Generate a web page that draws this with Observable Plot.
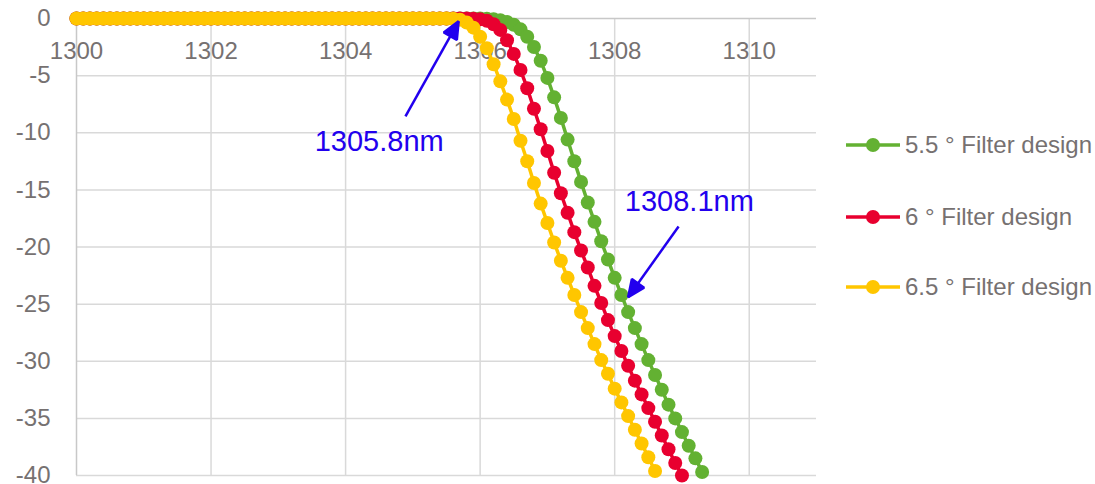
<!DOCTYPE html>
<html>
<head>
<meta charset="utf-8">
<script src="https://cdn.jsdelivr.net/npm/d3@7"></script>
<script src="https://cdn.jsdelivr.net/npm/@observablehq/plot@0.6"></script>
<style>
  html, body { margin: 0; padding: 0; background: #ffffff; }
  #wrap { position: relative; width: 1095px; height: 484px; font-family: "Liberation Sans", Arial, sans-serif; }
  #legend { position: absolute; left: 846px; top: 0; }
  .item { position: absolute; left: 0; display: flex; align-items: center; white-space: nowrap; height: 30px; }
  .item span { font-size: 24px; color: #767171; margin-left: 4px; }
</style>
</head>
<body>
<div id="wrap"><div id="legend"></div></div>
<script>
// Wavelength samples (nm)
const wavelengths = [
  1300.0,1300.1,1300.2,1300.3,1300.4,1300.5,1300.6,1300.7,1300.8,1300.9,
  1301.0,1301.1,1301.2,1301.3,1301.4,1301.5,1301.6,1301.7,1301.8,1301.9,
  1302.0,1302.1,1302.2,1302.3,1302.4,1302.5,1302.6,1302.7,1302.8,1302.9,
  1303.0,1303.1,1303.2,1303.3,1303.4,1303.5,1303.6,1303.7,1303.8,1303.9,
  1304.0,1304.1,1304.2,1304.3,1304.4,1304.5,1304.6,1304.7,1304.8,1304.9,
  1305.0,1305.1,1305.2,1305.3,1305.4,1305.5,1305.6,1305.7,1305.8,1305.9,
  1306.0,1306.1,1306.2,1306.3,1306.4,1306.5,1306.6,1306.7,1306.8,1306.9,
  1307.0,1307.1,1307.2,1307.3,1307.4,1307.5,1307.6,1307.7,1307.8,1307.9,
  1308.0,1308.1,1308.2,1308.3,1308.4,1308.5,1308.6,1308.7,1308.8,1308.9,
  1309.0,1309.1,1309.2,1309.3
];

// Series names
const seriesNames = ["5.5 ° Filter design", "6 ° Filter design", "6.5 ° Filter design"];

// 5.5° (dB), starting at 1300.0 nm
const green55 = [
  0,0,0,0,0,0,0,0,0,0,
  0,0,0,0,0,0,0,0,0,0,
  0,0,0,0,0,0,0,0,0,0,
  0,0,0,0,0,0,0,0,0,0,
  0,0,0,0,0,0,0,0,0,0,
  0,0,0,0,0,0,0,0,0,0,
  0,
  -0.02,-0.06,-0.15,-0.3,-0.55,-0.95,-1.6,-2.5,-3.7,
  -5.2,-6.9,-8.7,-10.6,-12.5,-14.3,-16.1,-17.8,-19.5,-21.1,
  -22.7,-24.2,-25.7,-27.1,-28.5,-29.9,-31.2,-32.5,-33.8,-35.0,
  -36.2,-37.4,-38.5,-39.7
];

// 6° (dB)
const red6 = [
  0,0,0,0,0,0,0,0,0,0,
  0,0,0,0,0,0,0,0,0,0,
  0,0,0,0,0,0,0,0,0,0,
  0,0,0,0,0,0,0,0,0,0,
  0,0,0,0,0,0,0,0,0,0,
  0,0,0,0,0,0,0,0,0,
  -0.02,
  -0.07,-0.2,-0.5,-1.0,-1.9,-3.1,-4.5,-6.1,-7.9,-9.7,
  -11.6,-13.5,-15.3,-17.0,-18.7,-20.3,-21.8,-23.4,-24.9,-26.4,
  -27.8,-29.1,-30.4,-31.7,-32.9,-34.1,-35.3,-36.5,-37.7,-38.9,
  -40.0
];

// 6.5° (dB)
const yellow65 = [
  0,0,0,0,0,0,0,0,0,0,
  0,0,0,0,0,0,0,0,0,0,
  0,0,0,0,0,0,0,0,0,0,
  0,0,0,0,0,0,0,0,0,0,
  0,0,0,0,0,0,0,0,0,0,
  0,0,0,0,0,0,
  -0.03,-0.1,-0.35,-0.8,
  -1.6,-2.6,-4.0,-5.5,-7.1,-8.8,-10.7,-12.5,-14.4,-16.2,
  -17.9,-19.6,-21.2,-22.7,-24.2,-25.7,-27.1,-28.5,-29.9,-31.1,
  -32.4,-33.6,-34.8,-36.0,-37.2,-38.4,-39.6
];

const seriesValues = [green55, red6, yellow65];
const seriesColors = ["#63b132", "#e8002f", "#ffc600"];

// Axis ticks
const xTicks = [1300, 1302, 1304, 1306, 1308, 1310];
const yTicks = [0, -5, -10, -15, -20, -25, -30, -35, -40];

// Annotations (data coordinates)
const annLabels = ["1305.8nm", "1308.1nm"];
const annTextX = [1304.5, 1309.11];
const annTextY = [-10.75, -16.0];
const annFromX = [1304.89, 1308.95];
const annFromY = [-8.56, -18.2];
const annToX = [1305.68, 1308.2];
const annToY = [-0.25, -24.4];

const rows = [];
seriesValues.forEach((vals, si) => {
  vals.forEach((v, i) => rows.push({w: wavelengths[i], v, s: seriesNames[si]}));
});
const ann = annLabels.map((t, i) => ({t, tx: annTextX[i], ty: annTextY[i], x1: annFromX[i], y1: annFromY[i], x2: annToX[i], y2: annToY[i]}));

const colorOf = Object.fromEntries(seriesNames.map((n, i) => [n, seriesColors[i]]));
const annColor = "#2200ee";

// Arrow: shaft drawn by Plot.link, filled triangular head appended from the scaled channel values
function filledHead(index, scales, values, dimensions, context, next) {
  const g = next(index, scales, values, dimensions, context);
  const ns = "http://www.w3.org/2000/svg";
  const L = 17, W = 7.5;
  for (const i of index) {
    const X1 = values.x1[i], Y1 = values.y1[i], X2 = values.x2[i], Y2 = values.y2[i];
    const dx = X2 - X1, dy = Y2 - Y1, len = Math.hypot(dx, dy);
    const ux = dx / len, uy = dy / len;
    const bx = X2 - ux * L, by = Y2 - uy * L;
    const p = document.createElementNS(ns, "polygon");
    p.setAttribute("points", `${X2},${Y2} ${bx - uy * W},${by + ux * W} ${bx + uy * W},${by - ux * W}`);
    p.setAttribute("fill", annColor);
    g.appendChild(p);
  }
  return g;
}

const marks = [
  Plot.gridX(xTicks.filter(d => d !== 1300), {stroke: "#d9d9d9", strokeOpacity: 1, strokeWidth: 1.5}),
  Plot.gridY(yTicks.filter(d => d !== 0), {stroke: "#d9d9d9", strokeOpacity: 1, strokeWidth: 1.5}),
  Plot.ruleX([1300], {stroke: "#c8c8c8", strokeWidth: 1.5}),
  Plot.ruleY([0], {stroke: "#c8c8c8", strokeWidth: 1.5}),
  Plot.axisY({ticks: yTicks, tickSize: 0, tickPadding: 26, tickFormat: d => String(d), fontSize: 24, label: null}),
  Plot.axisX({anchor: "top", ticks: xTicks, tickSize: 0, tickPadding: 0, dy: 40, tickFormat: d => String(d), fontSize: 24, label: null})
];
seriesNames.forEach(name => {
  const data = rows.filter(r => r.s === name);
  marks.push(Plot.line(data, {x: "w", y: "v", stroke: colorOf[name], strokeWidth: 3.5}));
  marks.push(Plot.dot(data, {x: "w", y: "v", r: 7, fill: colorOf[name], stroke: "none"}));
});
marks.push(Plot.link(ann, {x1: "x1", y1: "y1", x2: "x2", y2: "y2", stroke: annColor, strokeWidth: 2.5, render: filledHead}));
marks.push(Plot.text(ann, {x: "tx", y: "ty", text: "t", fill: annColor, fontSize: 29}));

const chart = Plot.plot({
  width: 1095,
  height: 484,
  marginLeft: 76,
  marginRight: 279,
  marginTop: 18,
  marginBottom: 9,
  style: {fontFamily: "'Liberation Sans', Arial, sans-serif", color: "#767171", background: "#ffffff", overflow: "visible"},
  x: {domain: [1300, 1311]},
  y: {domain: [-40, 0]},
  marks
});
document.getElementById("wrap").prepend(chart);

// Legend
const legend = document.getElementById("legend");
const legendTops = [145, 217, 287];
seriesNames.forEach((name, i) => {
  const item = document.createElement("div");
  item.className = "item";
  item.style.top = (legendTops[i] - 15) + "px";
  item.innerHTML = `<svg width="55" height="16"><line x1="0" y1="8" x2="54" y2="8" stroke="${seriesColors[i]}" stroke-width="3.5"/><circle cx="27" cy="8" r="7" fill="${seriesColors[i]}"/></svg><span>${name}</span>`;
  legend.appendChild(item);
});
</script>
</body>
</html>
